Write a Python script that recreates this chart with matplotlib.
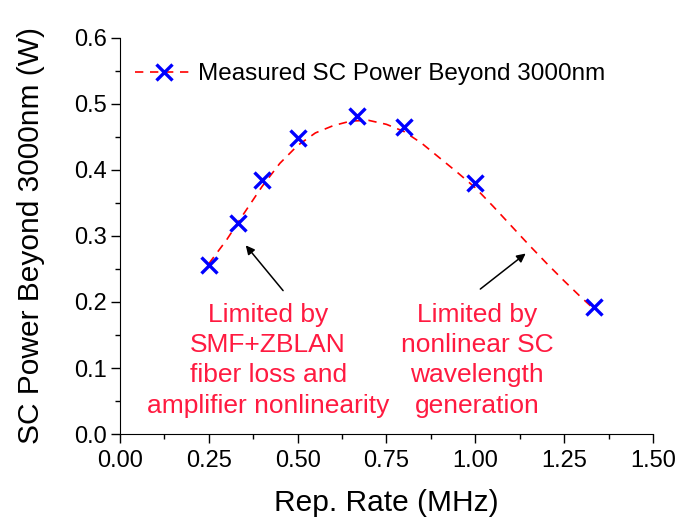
import matplotlib
matplotlib.use('Agg')
import matplotlib.pyplot as plt

plt.rcParams['font.family'] = ['Liberation Sans', 'DejaVu Sans']

# measured points
rate = [0.25, 0.333, 0.4, 0.5, 0.667, 0.8, 1.0, 1.333]
power = [0.256, 0.320, 0.384, 0.448, 0.482, 0.465, 0.380, 0.192]

# dashed trend curve
fit_x = [0.25, 0.30, 0.35, 0.40, 0.45, 0.50, 0.55, 0.60, 0.65, 0.70, 0.75,
         0.80, 0.85, 0.90, 0.95, 1.00, 1.05, 1.10, 1.15, 1.20, 1.25, 1.30, 1.333]
fit_y = [0.258, 0.294, 0.335, 0.375, 0.410, 0.437, 0.456, 0.467, 0.474, 0.475, 0.469,
         0.458, 0.440, 0.418, 0.396, 0.373, 0.345, 0.316, 0.287, 0.259, 0.232, 0.206, 0.190]

red = '#ff1a40'

fig = plt.figure(figsize=(6.78, 5.18), dpi=100)
ax = fig.add_axes([0.177, 0.162, 0.786, 0.765])

ax.plot(fit_x, fit_y, color='red', ls=(0, (5, 4)), lw=1.2)
ax.plot(rate, power, ls='none', marker='x', ms=12, mew=2.4, color='blue')

# legend entry drawn as a proxy so line and marker sit together
ax.plot([], [], color='red', ls=(0, (5, 4)), lw=1.2, marker='x', ms=12, mew=2.4,
        mec='blue', label='Measured SC Power Beyond 3000nm')
ax.legend(loc='upper left', bbox_to_anchor=(0.01, 0.96), frameon=False, fontsize=17.5,
          handlelength=2.4, handletextpad=0.2, borderaxespad=0)

ax.set_xlim(0, 1.5)
ax.set_ylim(0, 0.6)
ax.set_xticks([0, 0.25, 0.5, 0.75, 1.0, 1.25, 1.5])
ax.set_xticks([0.125, 0.375, 0.625, 0.875, 1.125, 1.375], minor=True)
ax.set_yticks([0, 0.1, 0.2, 0.3, 0.4, 0.5, 0.6])
ax.set_yticks([0.05, 0.15, 0.25, 0.35, 0.45, 0.55], minor=True)
ax.xaxis.set_major_formatter(plt.FormatStrFormatter('%.2f'))
ax.yaxis.set_major_formatter(plt.FormatStrFormatter('%.1f'))
ax.tick_params(which='major', direction='out', length=6.5, width=1, labelsize=17)
ax.tick_params(axis='x', which='major', pad=5)
ax.tick_params(axis='y', which='major', pad=3)
ax.tick_params(which='minor', direction='out', length=3.5, width=1)
ax.spines['top'].set_visible(False)
ax.spines['right'].set_visible(False)

ax.set_xlabel('Rep. Rate (MHz)', fontsize=21.5, labelpad=12)
ax.set_ylabel('SC Power Beyond 3000nm (W)', fontsize=21.5, labelpad=21)

ax.text(0.417, 0.112, 'Limited by\nSMF+ZBLAN\nfiber loss and\namplifier nonlinearity',
        color=red, fontsize=19, ha='center', va='center', linespacing=1.33)
ax.text(1.005, 0.112, 'Limited by\nnonlinear SC\nwavelength\ngeneration',
        color=red, fontsize=19, ha='center', va='center', linespacing=1.33)

ax.annotate('', xy=(0.349, 0.289), xytext=(0.464, 0.214),
            arrowprops=dict(arrowstyle='-|>', color='black', lw=1.1, mutation_scale=13))
ax.annotate('', xy=(1.148, 0.276), xytext=(1.008, 0.217),
            arrowprops=dict(arrowstyle='-|>', color='black', lw=1.1, mutation_scale=13))

fig.savefig('out.png', dpi=100)
